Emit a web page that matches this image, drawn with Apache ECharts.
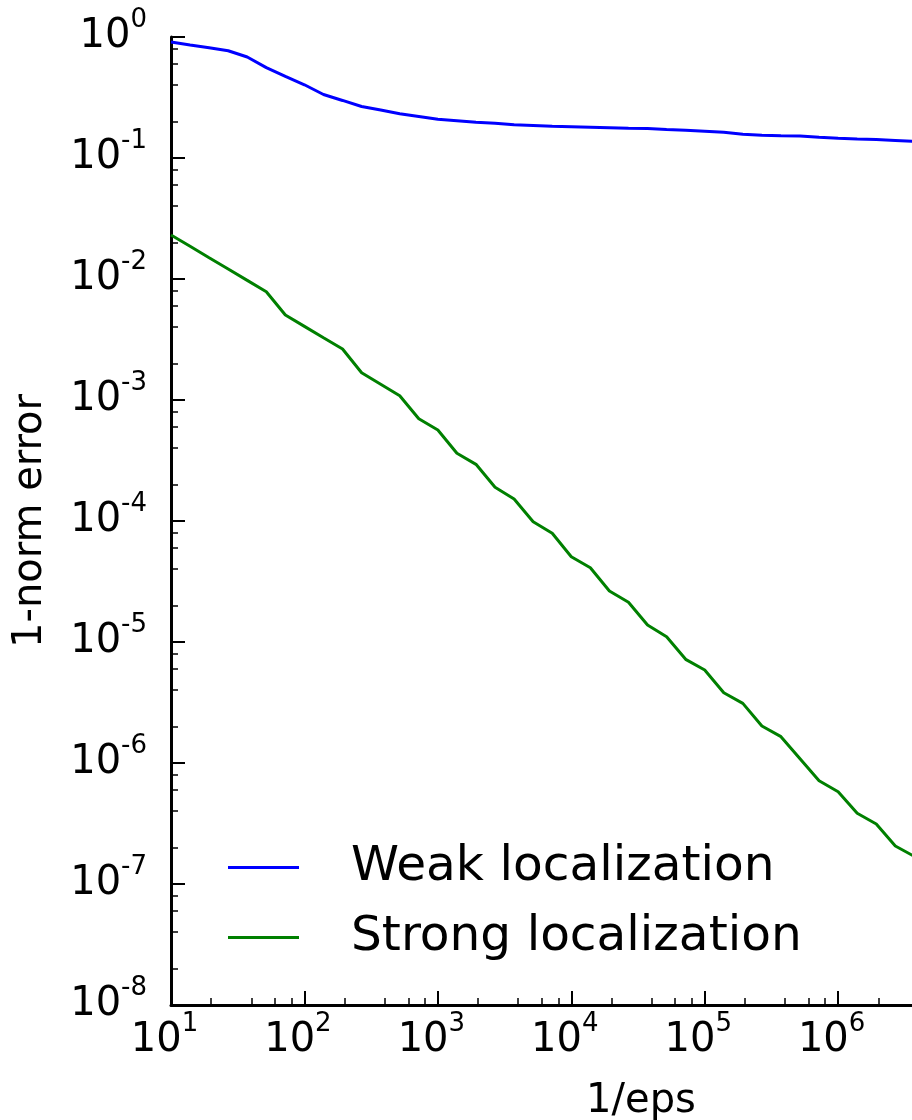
<!DOCTYPE html>
<html>
<head>
<meta charset="utf-8">
<script src="https://cdn.jsdelivr.net/npm/echarts@6/dist/echarts.min.js"></script>
<style>
  html, body { margin: 0; padding: 0; background: #ffffff; }
  #chart { width: 912px; height: 1120px; }
</style>
</head>
<body>
<div id="chart"></div>
<script>
// 1/eps sample points (seven per decade)
const invEps = [
  10, 13.895, 19.307, 26.827, 37.276, 51.795, 71.969,
  100, 138.95, 193.07, 268.27, 372.76, 517.95, 719.69,
  1000, 1389.5, 1930.7, 2682.7, 3727.6, 5179.5, 7196.9,
  10000, 13895, 19307, 26827, 37276, 51795, 71969,
  100000, 138950, 193070, 268270, 372760, 517950, 719690,
  1000000, 1389500, 1930700, 2682700, 3727600
];

// 1-norm error, weak localization
const weakLocalization = [
  0.909, 0.859, 0.814, 0.770, 0.683, 0.559, 0.472,
  0.403, 0.335, 0.299, 0.2665, 0.249, 0.2323, 0.2203,
  0.2088, 0.2033, 0.1976, 0.1935, 0.1880, 0.1856, 0.1831,
  0.1814, 0.1797, 0.1780, 0.1763, 0.1750, 0.1720, 0.1694,
  0.1665, 0.1631, 0.1573, 0.1540, 0.1529, 0.1520, 0.1483,
  0.1455, 0.1436, 0.1422, 0.1395, 0.1369
];

// 1-norm error, strong localization
const strongLocalization = [
  0.02310, 0.01863, 0.01500, 0.01210, 0.00974, 0.00785, 0.00504,
  0.00406, 0.00327, 0.00264, 0.00168, 0.00135, 0.001085, 7.01e-4,
  5.65e-4, 3.63e-4, 2.94e-4, 1.90e-4, 1.52e-4, 9.87e-5, 7.91e-5,
  5.07e-5, 4.11e-5, 2.64e-5, 2.13e-5, 1.382e-5, 1.106e-5, 7.19e-6,
  5.87e-6, 3.81e-6, 3.11e-6, 2.02e-6, 1.65e-6, 1.085e-6, 7.14e-7,
  5.79e-7, 3.84e-7, 3.13e-7, 2.06e-7, 1.69e-7
];

// Decade tick positions (labelled as powers of ten)
const xDecades = [10, 100, 1e3, 1e4, 1e5, 1e6, 1e7, 1e8];
const yDecades = [1e-8, 1e-7, 1e-6, 1e-5, 1e-4, 1e-3, 1e-2, 1e-1, 1];
// Minor ticks inside each decade
const minorSteps = [2, 4, 6, 8];

function minorTicks(decades) {
  const out = [];
  for (let i = 0; i < decades.length - 1; i++) {
    minorSteps.forEach(m => out.push(m * decades[i]));
  }
  return out;
}

const FONT = 'DejaVu Sans';

function powerLabel(v) {
  const e = Math.round(Math.log10(v));
  return '{b|10}{s|' + e + '}';
}

function powerRich(supPadRight) {
  return {
    b: { fontFamily: FONT, fontSize: 40, lineHeight: 60, color: '#000' },
    s: { fontFamily: FONT, fontSize: 26, lineHeight: 30, verticalAlign: 'top', color: '#000',
         padding: [0, supPadRight, 0, 0] }
  };
}

const X_MIN = 10, X_MAX = 1e8;
const Y_MIN = 1e-8, Y_MAX = 1;

const chart = echarts.init(document.getElementById('chart'), null, { renderer: 'canvas' });

const seriesPairs = (ys) => invEps.map((x, i) => [x, ys[i]]);

chart.setOption({
  animation: false,
  backgroundColor: '#ffffff',
  grid: { left: 171, top: 37, width: 934, height: 968, containLabel: false, outerBoundsMode: 'none' },
  legend: {
    orient: 'vertical',
    left: 228,
    top: 843,
    padding: 0,
    icon: 'rect',
    itemWidth: 71,
    itemHeight: 3,
    itemGap: 21,
    textStyle: { fontFamily: FONT, fontSize: 48.6, lineHeight: 49, color: '#000', padding: [0, 0, 0, 47] },
    data: ['Weak localization', 'Strong localization']
  },
  xAxis: [
    {
      type: 'log', logBase: 10, min: X_MIN, max: X_MAX, position: 'bottom',
      name: '1/eps', nameLocation: 'middle', nameGap: 77,
      nameTextStyle: { fontFamily: FONT, fontSize: 40, lineHeight: 40, color: '#000', padding: [0, 0, 0, 6] },
      axisLine: { show: true, onZero: false, lineStyle: { color: '#000', width: 3 } },
      axisTick: { show: true, inside: true, length: 14, customValues: xDecades,
                  lineStyle: { color: '#000', width: 2 } },
      axisLabel: { show: true, margin: 6, customValues: xDecades, formatter: powerLabel,
                   rich: powerRich(13) },
      splitLine: { show: false },
      minorTick: { show: false }
    },
    {
      type: 'log', logBase: 10, min: X_MIN, max: X_MAX, position: 'bottom',
      axisLine: { show: false, onZero: false },
      axisTick: { show: true, inside: true, length: 7, customValues: minorTicks(xDecades),
                  lineStyle: { color: '#000', width: 1.5 } },
      axisLabel: { show: false },
      splitLine: { show: false }
    }
  ],
  yAxis: [
    {
      type: 'log', logBase: 10, min: Y_MIN, max: Y_MAX, position: 'left',
      name: '1-norm error', nameLocation: 'middle', nameGap: 120,
      nameTextStyle: { fontFamily: FONT, fontSize: 40, lineHeight: 40, color: '#000' },
      axisLine: { show: true, onZero: false, lineStyle: { color: '#000', width: 3 } },
      axisTick: { show: true, inside: true, length: 14, customValues: yDecades,
                  lineStyle: { color: '#000', width: 2 } },
      axisLabel: { show: true, margin: 24, customValues: yDecades, formatter: powerLabel,
                   rich: powerRich(0) },
      splitLine: { show: false },
      minorTick: { show: false }
    },
    {
      type: 'log', logBase: 10, min: Y_MIN, max: Y_MAX, position: 'left',
      axisLine: { show: false, onZero: false },
      axisTick: { show: true, inside: true, length: 7, customValues: minorTicks(yDecades),
                  lineStyle: { color: '#000', width: 1.5 } },
      axisLabel: { show: false },
      splitLine: { show: false }
    }
  ],
  series: [
    {
      name: 'Weak localization', type: 'line', xAxisIndex: 0, yAxisIndex: 0,
      data: seriesPairs(weakLocalization),
      showSymbol: false, symbol: 'none', smooth: false,
      color: '#0000ff',
      lineStyle: { color: '#0000ff', width: 3 }
    },
    {
      name: 'Strong localization', type: 'line', xAxisIndex: 0, yAxisIndex: 0,
      data: seriesPairs(strongLocalization),
      showSymbol: false, symbol: 'none', smooth: false,
      color: '#008000',
      lineStyle: { color: '#008000', width: 3 }
    }
  ]
});
</script>
</body>
</html>
